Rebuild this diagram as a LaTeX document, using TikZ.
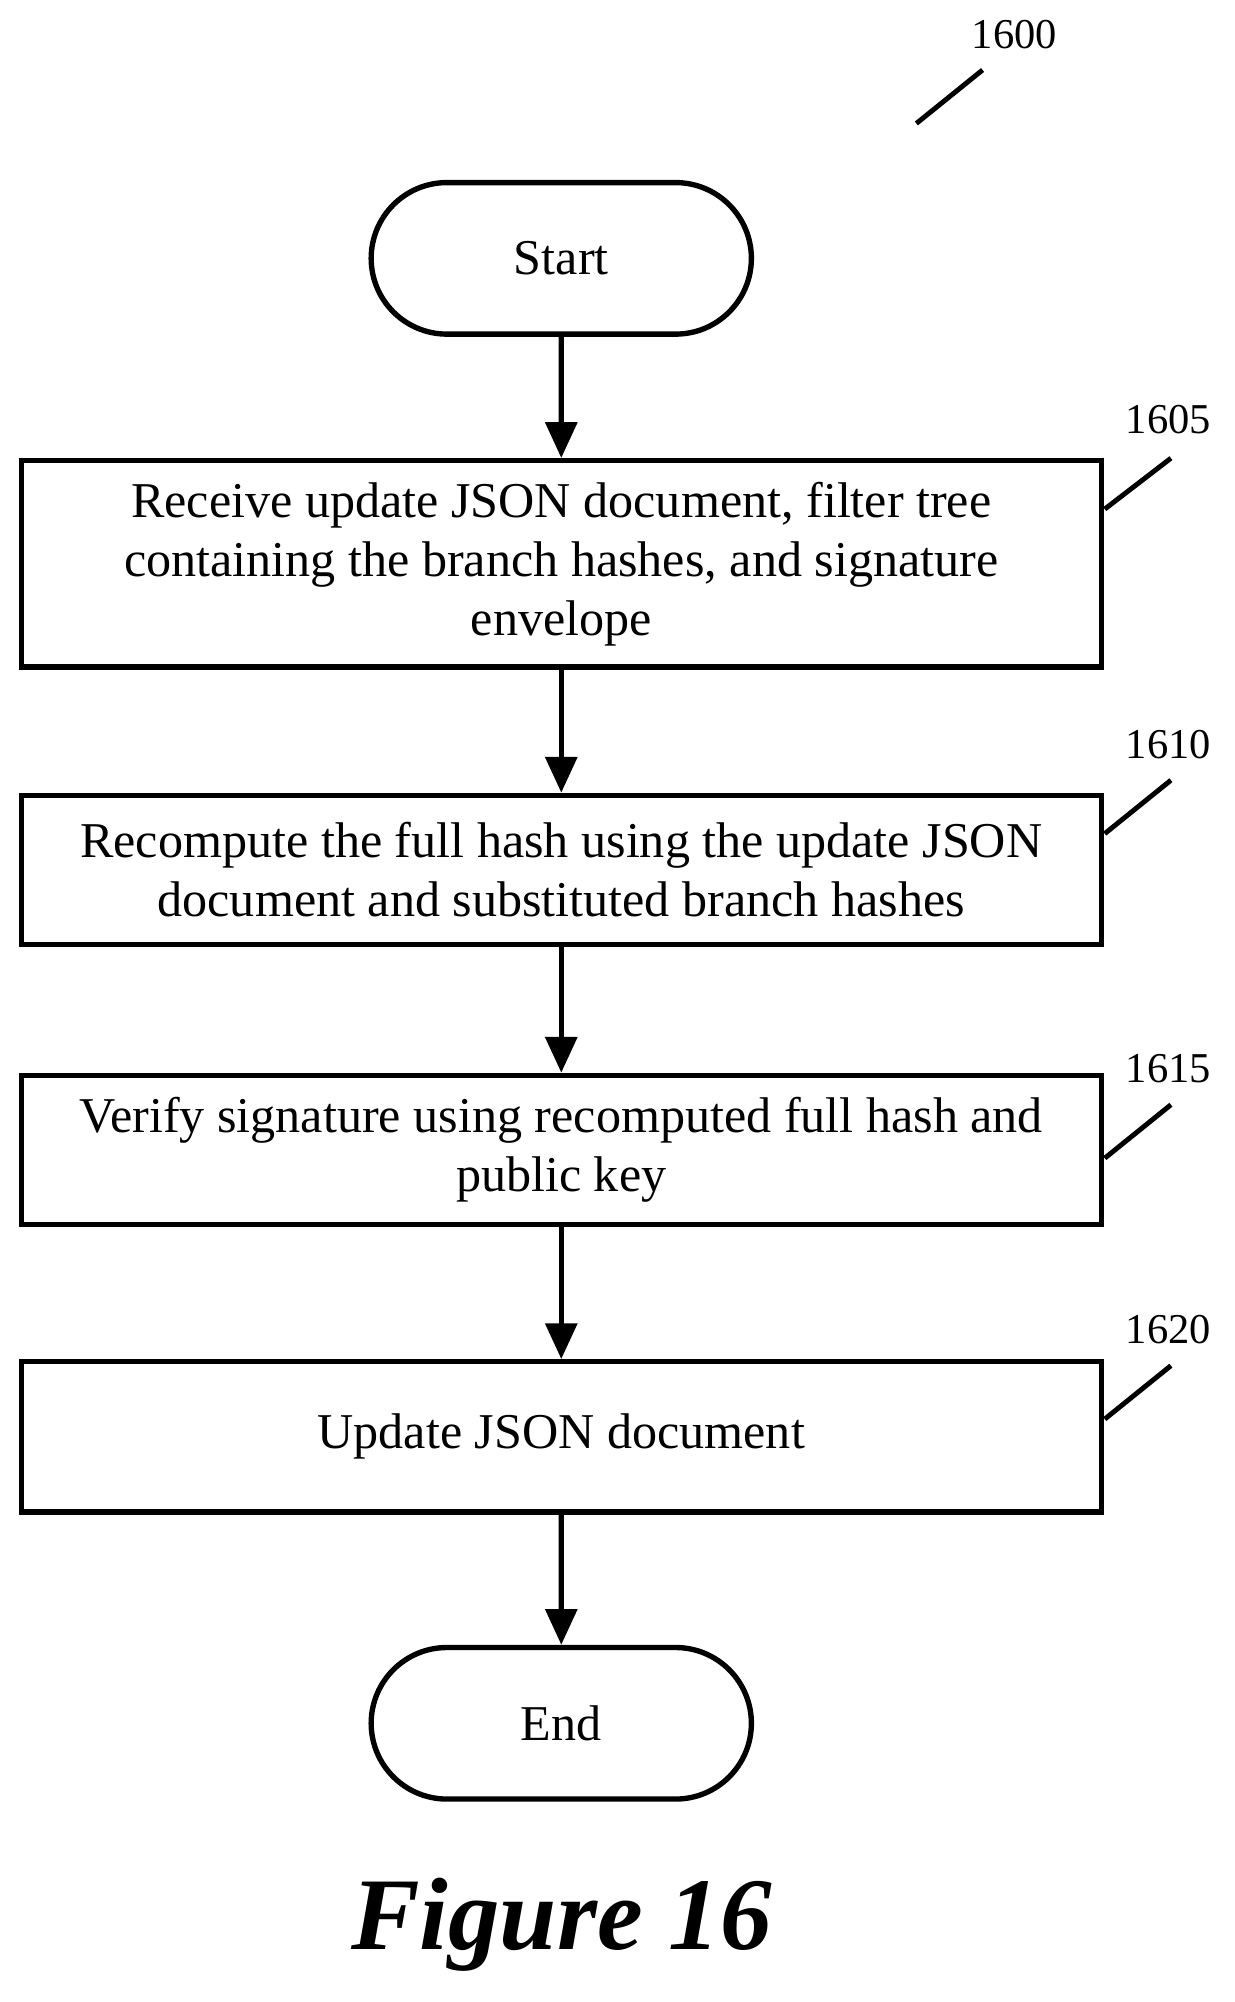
\documentclass[tikz,border=0pt]{standalone}
\usepackage{fontspec}
\setmainfont{Liberation Serif}
\usetikzlibrary{shapes.misc,arrows.meta}
\begin{document}
\begin{tikzpicture}[x=0.01cm,y=-0.01cm,
    box/.style={draw, line width=1.2pt, minimum width=8.48cm, align=center, font=\fontsize{11.2}{13.2}\selectfont, inner sep=0pt},
    term/.style={draw, line width=1.2pt, rounded rectangle, minimum width=3.22cm, minimum height=1.19cm, font=\fontsize{11.2}{13.2}\selectfont},
    arr/.style={-{Triangle[length=8pt,width=7pt]}, line width=1.2pt},
    lbl/.style={font=\fontsize{9.5}{11}\selectfont},
    tick/.style={line width=1.1pt}]
    \useasboundingbox (0,0) rectangle (970,1573);

    \node[term] (start) at (441,203) {Start};
    \node[box, minimum height=1.62cm] (s1605) at (441,443) {Receive update JSON document, filter tree\\containing the branch hashes, and signature\\envelope};
    \node[box, minimum height=1.17cm] (s1610) at (441,683.5) {Recompute the full hash using the update JSON\\document and substituted branch hashes};
    \node[box, minimum height=1.17cm] (s1615) at (441,903.5) {Verify signature using recomputed full hash and\\public key};
    \node[box, minimum height=1.18cm] (s1620) at (441,1129) {Update JSON document};
    \node[term] (end) at (441,1354) {End};

    \draw[arr] (start) -- (s1605);
    \draw[arr] (s1605) -- (s1610);
    \draw[arr] (s1610) -- (s1615);
    \draw[arr] (s1615) -- (s1620);
    \draw[arr] (s1620) -- (end);

    % reference numerals
    \node[lbl] (n1600) at (797,27) {1600};
    \draw[tick] (720,97) -- (772,55);
    \node[lbl] (n1605) at (918,330) {1605};
    \draw[tick] (868,400) -- (920,360);
    \node[lbl] (n1610) at (918,585) {1610};
    \draw[tick] (868,655) -- (920,613);
    \node[lbl] (n1615) at (918,840) {1615};
    \draw[tick] (868,910) -- (920,868);
    \node[lbl] (n1620) at (918,1045) {1620};
    \draw[tick] (868,1115) -- (920,1073);

    \node[font=\fontsize{23}{28}\selectfont\bfseries\itshape] (fig) at (441,1512) {Figure 16};
\end{tikzpicture}
\end{document}
